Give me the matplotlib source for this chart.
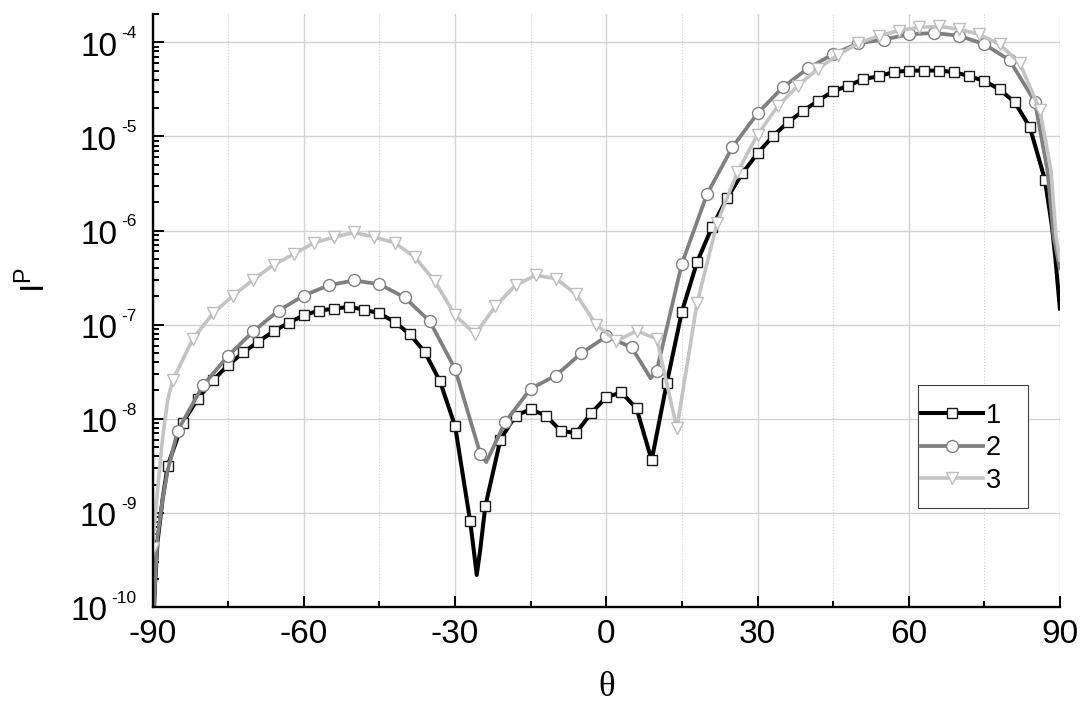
import numpy as np
import matplotlib
matplotlib.use('Agg')
import matplotlib.pyplot as plt
from matplotlib.lines import Line2D
from matplotlib.patches import Rectangle
from matplotlib.ticker import MultipleLocator, LogLocator, NullFormatter

plt.rcParams['font.family'] = ['Liberation Sans', 'DejaVu Sans']
plt.rcParams['axes.unicode_minus'] = False
plt.rcParams['mathtext.fontset'] = 'custom'
plt.rcParams['mathtext.rm'] = 'Liberation Sans'

# values are log10(I^P)
# curve 1: squares every 3 deg
theta1 = np.arange(-87, 88, 3)
log1 = [-8.50, -8.04, -7.785, -7.59, -7.43, -7.295, -7.18, -7.07, -6.98, -6.90,
        -6.85, -6.83, -6.81, -6.84, -6.88, -6.97, -7.10, -7.29, -7.60, -8.075,
        -9.09, -8.93, -8.22, -7.965, -7.90, -7.965, -8.13, -8.15, -7.94, -7.77,
        -7.72, -7.89, -8.44, -7.62, -6.86, -6.335, -5.96, -5.65, -5.39, -5.18,
        -5.00, -4.85, -4.73, -4.62, -4.52, -4.46, -4.39, -4.36, -4.315, -4.30,
        -4.30, -4.30, -4.315, -4.36, -4.41, -4.50, -4.635, -4.90, -5.46]
# extra points of the curve between markers (ends and dips)
ext1_theta = [-90, -89.5, -89, -88, -26.3, -25.7, -25.0, 88.4, 89.1, 90]
ext1_log = [-10.4, -9.75, -9.3, -8.85, -9.39, -9.66, -9.39, -5.96, -6.31, -6.85]

# curve 2: circles every 5 deg
theta2 = np.arange(-85, 86, 5)
log2 = [-8.125, -7.646, -7.33, -7.07, -6.85, -6.69, -6.58, -6.53, -6.57, -6.71,
        -6.965, -7.47, -8.37, -8.03, -7.68, -7.54, -7.305, -7.125, -7.24, -7.49,
        -6.35, -5.61, -5.115, -4.754, -4.478, -4.276, -4.124, -4.01, -3.97, -3.915,
        -3.90, -3.93, -4.02, -4.19, -4.63]
ext2_theta = [-90, -89.5, -89, -88, -87, -23.8, 8.8, 87.5, 88.7, 90]
ext2_log = [-10.4, -9.72, -9.25, -8.85, -8.55, -8.46, -7.57, -5.36, -6.06, -6.42]

# curve 3: triangles every 4 deg
theta3 = np.arange(-90, 87, 4)
log3 = [-9.37, -7.59, -7.15, -6.88, -6.69, -6.52, -6.365, -6.25, -6.13, -6.07,
        -6.02, -6.07, -6.13, -6.28, -6.54, -6.90, -7.10, -6.805, -6.58, -6.475,
        -6.51, -6.675, -7.00, -7.175, -7.065, -7.15, -8.10, -6.77, -5.915, -5.38,
        -4.98, -4.68, -4.46, -4.28, -4.13, -4.01, -3.93, -3.876, -3.84, -3.83,
        -3.86, -3.915, -4.02, -4.22, -4.72]
ext3_theta = [-89, -88, -87, 88.2, 89.2, 90]
ext3_log = [-8.75, -8.2, -7.8, -5.36, -6.06, -6.33]

labels = ['1', '2', '3']
decades = [-10, -9, -8, -7, -6, -5, -4]

series = [
    (theta1, log1, ext1_theta, ext1_log, 'black', 's', 7.6, '#1a1a1a', 2.9),
    (theta2, log2, ext2_theta, ext2_log, '#808080', 'o', 8.6, '#808080', 2.7),
    (theta3, log3, ext3_theta, ext3_log, '#c4c4c4', 'v', 9.0, '#bdbdbd', 2.6),
]

fig = plt.figure(figsize=(10.85, 7.02), dpi=100)
ax = fig.add_axes([0.1406, 0.1353, 0.8364, 0.8447])

handles = []
for i, (th, lg, eth, elg, col, mk, ms, mec, lw) in enumerate(series):
    x = np.concatenate([th, eth])
    y = np.concatenate([lg, elg])
    o = np.argsort(x)
    ax.plot(x[o], 10.0 ** y[o], color=col, lw=lw, zorder=2 + i * 0.2,
            solid_joinstyle='round', solid_capstyle='butt')
    ax.plot(th, 10.0 ** np.array(lg), ls='none', marker=mk, ms=ms, mfc='white',
            mec=mec, mew=1.0, zorder=2.1 + i * 0.2)
    handles.append(Line2D([], [], color=col, lw=lw, marker=mk, ms=ms, mfc='white',
                          mec=mec, mew=1.0))

ax.set_yscale('log')
ax.set_xlim(-90, 90)
ax.set_ylim(1e-10, 2e-4)

ax.xaxis.set_major_locator(MultipleLocator(30))
ax.xaxis.set_minor_locator(MultipleLocator(15))
ax.yaxis.set_major_locator(LogLocator(base=10, numticks=20))
ax.yaxis.set_minor_locator(LogLocator(base=10, subs=np.arange(2, 10), numticks=20))
ax.yaxis.set_major_formatter(NullFormatter())
ax.yaxis.set_minor_formatter(NullFormatter())

ax.grid(which='major', color='#d2d2d2', lw=1.0, zorder=0)
ax.xaxis.grid(which='minor', color='#d2d2d2', lw=0.8, ls=':')
ax.yaxis.grid(False, which='minor')
ax.set_axisbelow(True)

for s in ['top', 'right']:
    ax.spines[s].set_visible(False)
for s in ['left', 'bottom']:
    ax.spines[s].set_linewidth(1.7)

ax.tick_params(which='both', direction='in', top=False, right=False, width=1.4)
ax.tick_params(which='major', length=8)
ax.tick_params(which='minor', length=4)
ax.tick_params(axis='x', labelsize=24, pad=8.6)

# y tick labels as 10 with a small raised exponent
fig.canvas.draw()
rend = fig.canvas.get_renderer()
for k in decades:
    ex = ax.annotate(str(k), xy=(0, 10.0 ** k), xycoords=('axes fraction', 'data'),
                     xytext=(-11.5, 3), textcoords='offset points', ha='right',
                     va='baseline', fontsize=12.5, annotation_clip=False)
    w = ex.get_window_extent(rend).width * 72 / fig.dpi
    ax.annotate('10', xy=(0, 10.0 ** k), xycoords=('axes fraction', 'data'),
                xytext=(-11.5 - w - 3, -9.6), textcoords='offset points', ha='right',
                va='baseline', fontsize=24, annotation_clip=False)

ax.set_ylabel(r'I$^\mathregular{P}$', fontsize=24)
ax.yaxis.set_label_coords(-0.111, 0.552)
ax.set_xlabel('θ', fontsize=25, family='Liberation Serif')
ax.xaxis.set_label_coords(0.5, -0.135)
ax.xaxis.label.set_va('center')

# legend frame and entries
ax.add_patch(Rectangle((0.8439, 0.1666), 0.1212, 0.2082, transform=ax.transAxes,
                       facecolor='white', edgecolor='#404040', lw=0.8, zorder=4))
leg = ax.legend(handles, labels, loc='center left', bbox_to_anchor=(0.8466, 0.268),
                frameon=False, borderpad=0, borderaxespad=0, fontsize=19.5,
                handlelength=2.3, handletextpad=0.1, labelspacing=0.24)
leg.set_zorder(5)

fig.savefig('out.png', dpi=100)
